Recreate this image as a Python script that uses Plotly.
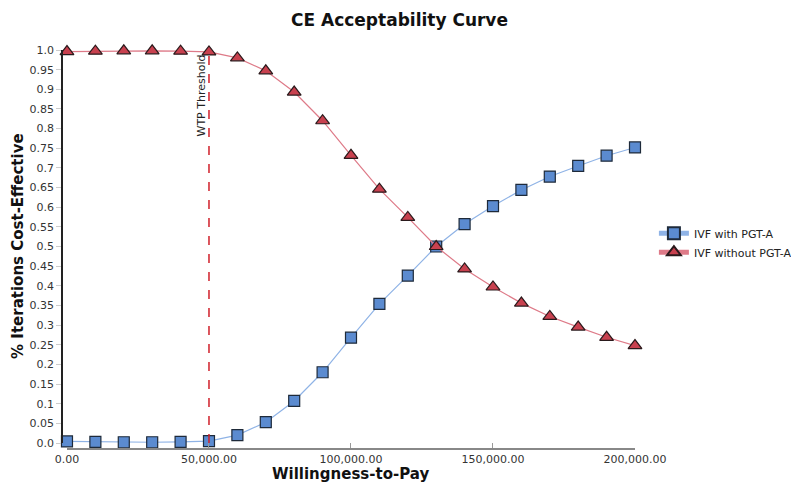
import plotly.graph_objects as go

wtp = [0, 10000, 20000, 30000, 40000, 50000, 60000, 70000, 80000, 90000, 100000,
       110000, 120000, 130000, 140000, 150000, 160000, 170000, 180000, 190000, 200000]
with_pgta = [0.004, 0.003, 0.002, 0.002, 0.003, 0.005, 0.020, 0.053, 0.107, 0.180, 0.268,
             0.354, 0.426, 0.500, 0.557, 0.603, 0.644, 0.678, 0.705, 0.731, 0.752]
without_pgta = [0.996, 0.997, 0.998, 0.998, 0.997, 0.995, 0.980, 0.947, 0.893, 0.820, 0.732,
                0.646, 0.574, 0.500, 0.443, 0.397, 0.356, 0.322, 0.295, 0.269, 0.248]
threshold = 50000
y_tickvals = [i * 0.05 for i in range(21)]
y_ticktext = ["0.0", "0.05", "0.1", "0.15", "0.2", "0.25", "0.3", "0.35", "0.4", "0.45", "0.5",
              "0.55", "0.6", "0.65", "0.7", "0.75", "0.8", "0.85", "0.9", "0.95", "1.0"]
x_tickvals = [0, 50000, 100000, 150000, 200000]
x_ticktext = ["0.00", "50,000.00", "100,000.00", "150,000.00", "200,000.00"]

FONT = "DejaVu Sans, Verdana, sans-serif"

fig = go.Figure()
fig.add_trace(go.Scatter(
    x=wtp, y=with_pgta, name="IVF with PGT-A", mode="lines+markers",
    line=dict(color="#8fb3e6", width=1.2),
    marker=dict(symbol="square", size=11, color="#5b8bd0", line=dict(color="#1e2a3a", width=1.2)),
    cliponaxis=False,
))
fig.add_trace(go.Scatter(
    x=wtp, y=without_pgta, name="IVF without PGT-A", mode="lines+markers",
    line=dict(color="#de7a88", width=1.2),
    marker=dict(symbol="triangle-up", size=12, color="#c8414f", line=dict(color="#2a1a1c", width=1.2)),
    cliponaxis=False,
))

fig.add_shape(type="line", x0=threshold, x1=threshold, y0=0, y1=1, xref="x", yref="y",
              line=dict(color="#d0202a", width=1.5, dash="dash"))
fig.add_annotation(x=threshold, y=1, xref="x", yref="y", text="WTP Threshold",
                   textangle=-90, showarrow=False, xanchor="right", yanchor="top",
                   xshift=1, yshift=-2, font=dict(family=FONT, size=11, color="#222"))

# axis titles
fig.add_annotation(x=0.504, y=0, xref="paper", yref="paper", text="<b>Willingness-to-Pay</b>",
                   showarrow=False, xanchor="center", yanchor="middle", yshift=-25,
                   font=dict(family=FONT, size=15, color="#111"))
fig.add_annotation(x=0, y=0.509, xref="paper", yref="paper", text="<b>% Iterations Cost-Effective</b>",
                   showarrow=False, xanchor="center", yanchor="middle", xshift=-44, textangle=-90,
                   font=dict(family=FONT, size=15, color="#111"))

fig.update_layout(
    width=799, height=482,
    margin=dict(l=54, r=172, t=42, b=41, autoexpand=False),
    paper_bgcolor="white", plot_bgcolor="white",
    font=dict(family=FONT, size=11, color="#333"),
    title=dict(text="<b>CE Acceptability Curve</b>", x=0.49, xref="container", xanchor="center",
               y=0.975, yanchor="middle", font=dict(family=FONT, size=17, color="#111")),
    showlegend=True,
    legend=dict(x=1.033, y=0.517, xanchor="left", yanchor="middle",
                font=dict(family=FONT, size=11, color="#222"), bgcolor="rgba(0,0,0,0)",
                tracegroupgap=0, itemsizing="constant"),
    xaxis=dict(domain=[0.0087, 1], range=[0, 200000], anchor="free", position=0,
               automargin=False,
               tickvals=x_tickvals, ticktext=x_ticktext, ticks="inside", ticklen=5,
               tickcolor="#999", showline=True, linecolor="#888", linewidth=2,
               showgrid=False, zeroline=False,
               tickfont=dict(family=FONT, size=11, color="#333")),
    yaxis=dict(domain=[0.015, 1], range=[0, 1], anchor="free", position=0,
               automargin=False,
               tickvals=y_tickvals, ticktext=y_ticktext, ticks="outside", ticklen=5,
               tickcolor="#ccc", showline=True, linecolor="#222", linewidth=1.5,
               showgrid=False, zeroline=False,
               tickfont=dict(family=FONT, size=11, color="#333")),
)

fig.write_html("out.html")
